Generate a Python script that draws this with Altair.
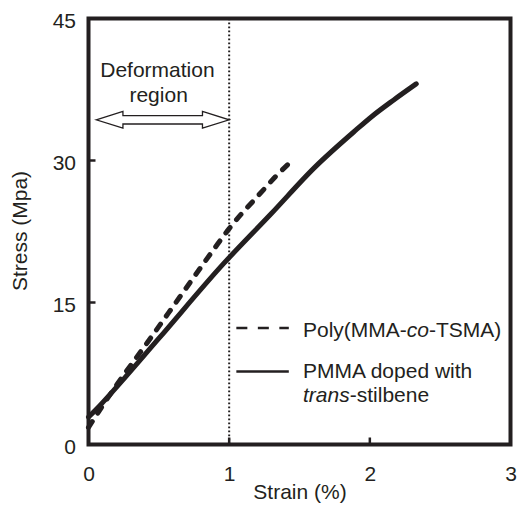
import altair as alt
import pandas as pd

# ---------------- data ----------------
tsma_strain = [0.0, 0.10, 0.21, 0.42, 0.65, 0.89, 1.00, 1.09, 1.17, 1.25, 1.33, 1.44]
tsma_stress = [1.8, 4.1, 6.5, 10.8, 15.6, 20.6, 22.8, 24.4, 25.7, 27.0, 28.3, 29.9]

stil_strain = [0.0, 0.08, 0.16, 0.50, 0.96, 1.30, 1.61, 1.90, 2.01, 2.17, 2.33]
stil_stress = [2.9, 4.1, 5.4, 11.2, 19.1, 24.4, 29.3, 33.2, 34.6, 36.4, 38.1]

x_ticks = [0, 1, 2, 3]
y_ticks = [0, 15, 30, 45]
inner_x_ticks = [1, 2]
inner_y_ticks = [15, 30]
deformation_limit = [1.0]

# ---------------- style ----------------
INK = "#231f20"
FONT = "Liberation Sans"
FS = 21
W, H = 422, 426
PX = W / 3.0  # pixels per strain unit (used only for annotation placement)

df_tsma = pd.DataFrame({"strain": tsma_strain, "stress": tsma_stress})
df_stil = pd.DataFrame({"strain": stil_strain, "stress": stil_stress})
one = pd.DataFrame({"k": [0]})

xscale = alt.Scale(domain=[0, 3], nice=False, zero=False)
yscale = alt.Scale(domain=[0, 45], nice=False, zero=False)

x_axis = alt.Axis(values=x_ticks, ticks=False, domain=False, grid=False,
                  labelFontSize=FS, labelFont=FONT, labelColor=INK, labelPadding=19,
                  labelFlush=False, labelAngle=0,
                  title="Strain (%)", titleFontSize=FS, titleFont=FONT, titleColor=INK,
                  titleFontWeight="normal", titleBaseline="alphabetic",
                  titleY=54, titleX=211, titleAnchor="middle", titleAlign="center")
y_axis = alt.Axis(values=y_ticks, ticks=False, domain=False, grid=False,
                  labelFontSize=FS, labelFont=FONT, labelColor=INK, labelPadding=13,
                  labelFlush=False, labelBaseline="alphabetic", labelOffset=8.5,
                  title="Stress (Mpa)", titleFontSize=FS, titleFont=FONT, titleColor=INK,
                  titleFontWeight="normal", titleAngle=-90, titleBaseline="middle",
                  titleX=-68, titleY=212, titleAlign="center")


def X(field):
    return alt.X(field, scale=xscale, axis=x_axis)


def Y(field):
    return alt.Y(field, scale=yscale, axis=y_axis)


stil_line = alt.Chart(df_stil).mark_line(
    color=INK, strokeWidth=5, strokeCap="round", interpolate="monotone"
).encode(x=X("strain:Q"), y=Y("stress:Q"), order="strain:Q")

tsma_line = alt.Chart(df_tsma).mark_line(
    color=INK, strokeWidth=5, strokeCap="round", strokeDash=[7, 10], interpolate="monotone"
).encode(x=X("strain:Q"), y=Y("stress:Q"), order="strain:Q")

dotted = alt.Chart(pd.DataFrame({"strain": deformation_limit})).mark_rule(
    color=INK, strokeWidth=2, strokeDash=[1.8, 2.2]
).encode(x=X("strain:Q"))

xt = alt.Chart(pd.DataFrame({"strain": inner_x_ticks})).mark_rule(color=INK, strokeWidth=2.5).encode(
    x=X("strain:Q"), y=alt.value(H), y2=alt.value(H - 7))
yt = alt.Chart(pd.DataFrame({"stress": inner_y_ticks})).mark_rule(color=INK, strokeWidth=2.5).encode(
    y=Y("stress:Q"), x=alt.value(0), x2=alt.value(7))


def txt(s, x, y, italic=False, align="left"):
    return alt.Chart(one).mark_text(
        text=s, font=FONT, fontSize=FS, color=INK, align=align, baseline="alphabetic",
        fontStyle="italic" if italic else "normal"
    ).encode(x=alt.value(x), y=alt.value(y))


# hollow double arrow spanning the deformation region (strain 0.055 .. 1.0)
a_left, a_right = 0.055 * PX, 1.0 * PX
a_len = a_right - a_left
head = 26.7 / (a_len / 2)
hh, sh = 8.3 / (a_len / 2), 4.2 / (a_len / 2)
b = 1 - head
arrow_path = (f"M-1,0 L{-b:.4f},{-hh:.4f} L{-b:.4f},{-sh:.4f} L{b:.4f},{-sh:.4f} "
              f"L{b:.4f},{-hh:.4f} L1,0 L{b:.4f},{hh:.4f} L{b:.4f},{sh:.4f} "
              f"L{-b:.4f},{sh:.4f} L{-b:.4f},{hh:.4f} Z")
arrow = alt.Chart(one).mark_point(
    shape=arrow_path, size=a_len ** 2, fill="white", filled=True, stroke=INK,
    strokeWidth=1.3, opacity=1
).encode(x=alt.value((a_left + a_right) / 2), y=alt.value(101.3))

lx0, lx1 = 1.051 * PX, 1.424 * PX
leg_dash = alt.Chart(one).mark_rule(color=INK, strokeWidth=2.5, strokeDash=[11, 10.5]).encode(
    x=alt.value(lx0), x2=alt.value(lx1), y=alt.value(309.6))
leg_solid = alt.Chart(one).mark_rule(color=INK, strokeWidth=2.5).encode(
    x=alt.value(lx0), x2=alt.value(lx1), y=alt.value(353))

lx = 1.525 * PX
layers = [
    stil_line, tsma_line, dotted, xt, yt, arrow,
    txt("Deformation", 0.49 * PX, 58.8, align="center"),
    txt("region", 0.4986 * PX, 83.2, align="center"),
    leg_dash, leg_solid,
    txt("Poly(MMA-", lx, 318),
    txt("co", lx + 103.8, 318, italic=True),
    txt("-TSMA)", lx + 126.0, 318),
    txt("PMMA doped with", lx, 359.6),
    txt("trans", lx, 383.3, italic=True),
    txt("-stilbene", lx + 46.7, 383.3),
]

chart = alt.layer(*layers).properties(
    width=W, height=H,
    padding={"left": 80.5, "top": 10.5, "right": 7, "bottom": 58},
    autosize=alt.AutoSizeParams(type="none"),
    background="white",
).configure_view(stroke=INK, strokeWidth=4)

chart.save("out.html", embed_options={"renderer": "svg", "actions": False})
